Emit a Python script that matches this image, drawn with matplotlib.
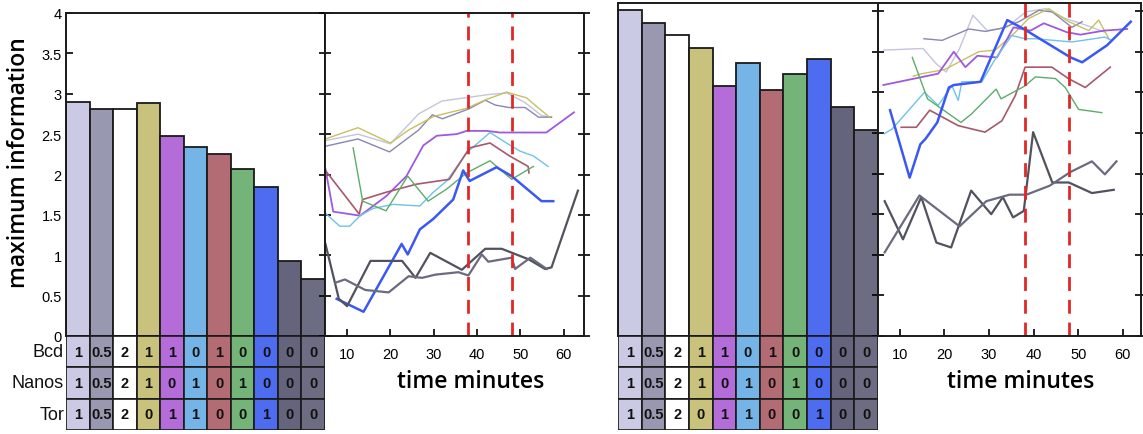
import matplotlib
matplotlib.use("Agg")
import matplotlib.pyplot as plt
from matplotlib.ticker import FormatStrFormatter

# ---------------- data ----------------
conditions = list(range(1, 12))
bar_colors = ["#cacae4", "#9898b0", "#ffffff", "#c8c27c", "#b46cd8", "#74b4e6",
              "#b46c74", "#74b478", "#4e6cf0", "#64647c", "#6c6c82"]
line_colors = ["#c4c4dc", "#8a86b4", "#ffffff", "#c8c060", "#a058e0", "#6cc4e6",
               "#a8586a", "#5cac6c", "#3a58f4", "#52525f", "#6a6a80"]
line_widths = [1.0, 1.0, 1.0, 1.0, 1.3, 1.0, 1.2, 1.0, 1.8, 1.6, 1.6]

left_bar_values = [2.90, 2.81, 2.81, 2.88, 2.48, 2.34, 2.25, 2.07, 1.84, 0.93, 0.70]
right_bar_values = [4.01, 3.85, 3.71, 3.54, 3.08, 3.36, 3.03, 3.22, 3.41, 2.82, 2.54]

row_labels = ["Bcd", "Nanos", "Tor"]
bcd_levels = ["1", "0.5", "2", "1", "1", "0", "1", "0", "0", "0", "0"]
nanos_levels = ["1", "0.5", "2", "1", "0", "1", "0", "1", "0", "0", "0"]
tor_levels = ["1", "0.5", "2", "0", "1", "1", "0", "0", "1", "0", "0"]

# left time courses (time in minutes, information)
left_t = {
    1: [5, 12.5, 20, 26.5, 31.9, 37.3, 42.6, 46.9, 51.1, 54.9, 57.2],
    2: [5, 12.5, 19.8, 26.5, 29.7, 32, 38, 41.9, 44.2, 47.3, 51.1, 54.2, 57.2],
    4: [5, 12.5, 20, 24.2, 30, 37.6, 42.2, 46.8, 51.4, 56.7],
    5: [5, 6.8, 13, 19, 23.7, 27.6, 30.7, 35.3, 37.6, 42.2, 45.3, 56, 62.4],
    6: [5, 8.3, 10.6, 13, 16, 20.7, 26.8, 29.9, 33, 37.6, 43, 46.8, 49.9, 53, 56.4],
    7: [5, 12.8, 13.6, 19, 26, 33.6, 38.3, 43, 47.5, 51.8, 52],
    8: [11.4, 13.6, 19, 24, 28.7, 33, 37.6, 43, 48, 53],
    9: [7.6, 13.8, 22.6, 24, 26.8, 29.9, 34.5, 36.8, 38.3, 44.5, 48, 54.9, 57.6],
    10: [5, 8.1, 10, 15.4, 22.7, 25.8, 29.2, 36.5, 41.9, 45.7, 51.9, 55.7, 57.2, 63.3],
    11: [7.3, 9.5, 14.2, 19.6, 24.2, 27.3, 30.4, 35.7, 38, 41.1, 42.6, 48, 48.8, 52.3, 56.1],
}
left_v = {
    1: [2.42, 2.50, 2.38, 2.75, 2.91, 2.95, 2.99, 3.01, 2.89, 2.73, 2.71],
    2: [2.35, 2.44, 2.28, 2.55, 2.74, 2.69, 2.81, 2.92, 2.86, 2.83, 2.83, 2.71, 2.71],
    4: [2.44, 2.58, 2.39, 2.55, 2.72, 2.82, 2.93, 3.02, 2.95, 2.71],
    5: [2.07, 1.54, 1.49, 1.73, 1.98, 2.36, 2.48, 2.50, 2.54, 2.54, 2.52, 2.52, 2.77],
    6: [1.52, 1.36, 1.36, 1.49, 1.58, 1.63, 1.61, 1.78, 1.92, 2.27, 2.52, 2.39, 2.29, 2.23, 2.10],
    7: [2.05, 1.51, 1.69, 1.78, 1.88, 1.94, 2.33, 2.39, 2.23, 2.10, 2.02],
    8: [2.33, 1.67, 1.55, 1.98, 1.67, 1.82, 2.02, 2.17, 1.94, 2.10],
    9: [0.46, 0.30, 1.14, 1.01, 1.32, 1.45, 1.69, 2.05, 1.92, 2.09, 1.98, 1.67, 1.67],
    10: [1.14, 0.46, 0.37, 0.93, 0.93, 0.72, 1.03, 0.82, 1.08, 1.08, 0.95, 0.83, 0.85, 1.80],
    11: [0.66, 0.70, 0.57, 0.54, 0.74, 0.72, 0.76, 0.79, 0.75, 1.01, 0.92, 0.97, 0.83, 0.97, 0.83],
}

# right time courses
right_t = {
    1: [6.4, 15.2, 18.2, 20.4, 23.4, 26.4, 29.6, 34, 38.2, 42.7, 47.1, 51.6, 56],
    2: [15.4, 19.5, 25.5, 29.2, 32.9, 36.7, 41.2, 44.2, 48.6, 50.9],
    4: [13, 15, 20, 27.7, 31.4, 35.9, 38.9, 43.4, 47.9, 52.4, 54.6, 56.9],
    5: [6.3, 18.6, 22.1, 24.7, 27.4, 31.8, 35.5, 39.3, 42.3, 47.5, 50.5, 55.8, 61],
    6: [6.5, 8.3, 15.5, 18.6, 21.7, 23.1, 23.9, 28.4, 31.4, 35.1, 38.1, 40.4, 48.6, 56, 57.5],
    7: [10.3, 13.7, 16.7, 23.1, 29.1, 32.9, 35.9, 38.1, 44.1, 47.8, 51.6, 57.2],
    8: [12.8, 16.2, 23.7, 26, 31.6, 32.7, 38.1, 40.4, 44.9, 47.1, 50.1, 55.3],
    9: [7.8, 12.2, 14.6, 15.8, 18.4, 21, 22.1, 28.1, 34.1, 37.8, 48.3, 50.9, 56.5, 61.8],
    10: [6.6, 10.7, 14.8, 18.2, 21.5, 26, 30.5, 33.1, 35.4, 37.8, 39.9, 44.2, 47.9, 53.1, 58],
    11: [6.6, 14.4, 23.4, 29.4, 34.6, 38.4, 43.6, 48.3, 53.1, 56, 58.6],
}
right_v = {
    1: [3.52, 3.54, 3.35, 3.25, 3.54, 3.95, 3.76, 3.80, 3.99, 4.03, 3.91, 3.83, 3.74],
    2: [3.66, 3.64, 3.78, 3.75, 3.79, 3.87, 4.01, 3.99, 3.80, 3.87],
    4: [3.20, 3.23, 3.28, 3.50, 3.52, 3.74, 3.91, 4.03, 3.87, 3.76, 3.89, 3.66],
    5: [3.09, 3.23, 3.50, 3.31, 3.45, 3.43, 3.80, 3.76, 3.85, 3.74, 3.71, 3.76, 3.78],
    6: [2.49, 2.55, 3.00, 2.84, 3.08, 2.90, 3.13, 3.13, 3.41, 3.70, 3.66, 3.66, 3.62, 3.68, 3.64],
    7: [2.57, 2.57, 2.78, 2.59, 2.51, 2.65, 2.96, 3.31, 3.31, 3.17, 3.06, 3.31],
    8: [3.43, 2.92, 2.63, 2.73, 3.04, 2.92, 3.08, 3.19, 3.17, 3.06, 2.79, 2.75],
    9: [2.78, 1.95, 2.36, 2.43, 2.63, 3.06, 3.09, 3.13, 3.89, 3.78, 3.43, 3.37, 3.58, 3.87],
    10: [1.66, 1.19, 1.71, 1.15, 1.09, 1.79, 1.50, 1.71, 1.46, 1.54, 2.51, 1.89, 1.89, 1.76, 1.80],
    11: [1.03, 1.73, 1.35, 1.66, 1.74, 1.74, 1.85, 2.02, 2.15, 1.99, 2.15],
}

event_times = [38, 48]
time_ticks = [10, 20, 30, 40, 50, 60]
info_ticks = [0, 0.5, 1, 1.5, 2, 2.5, 3, 3.5, 4]

# ---------------- layout ----------------
W, H = 1143, 435
fig = plt.figure(figsize=(W / 100, H / 100), dpi=100)
plt.rcParams["font.family"] = ["Liberation Sans", "DejaVu Sans"]


def ax_px(x0, y0, x1, y1):
    return fig.add_axes([x0 / W, 1 - y1 / H, (x1 - x0) / W, (y1 - y0) / H])


def style_frame(ax):
    for s in ax.spines.values():
        s.set_linewidth(1.4)
        s.set_color("#1a1a1a")


def bar_panel(ax, values, ymax, labels):
    ax.bar(conditions, values, width=1.0, color=bar_colors,
           edgecolor="#1a1a1a", linewidth=1.3)
    ax.set_xlim(0.5, 11.5)
    ax.set_ylim(0, ymax)
    ax.set_xticks([])
    ax.set_yticks(info_ticks)
    ax.yaxis.set_major_formatter(FormatStrFormatter("%g"))
    ax.tick_params(axis="y", direction="in", length=5, width=1.2,
                   labelsize=10.5, pad=3, labelleft=labels)
    ax.set_axisbelow(True)
    style_frame(ax)


def line_panel(ax, tdict, vdict, xlim, ymax):
    for k in sorted(tdict):
        ax.plot(tdict[k], vdict[k], color=line_colors[k - 1],
                lw=line_widths[k - 1], solid_joinstyle="round")
    for t in event_times:
        ax.axvline(t, color="#e02828", lw=2.0, dashes=(5, 3.2))
    ax.set_xlim(*xlim)
    ax.set_ylim(0, ymax)
    ax.set_xticks(time_ticks)
    ax.set_yticks(info_ticks)
    ax.tick_params(axis="x", direction="in", length=5, width=1.2,
                   labelsize=10.5, pad=8)
    ax.tick_params(axis="y", direction="inout", length=8, width=1.2,
                   left=True, right=True, labelleft=False)
    style_frame(ax)


def table_panel(ax, with_labels):
    rows = [bcd_levels, nanos_levels, tor_levels]
    for r, levels in enumerate(rows):
        ax.bar(conditions, [1] * 11, bottom=r, width=1.0, color=bar_colors,
               edgecolor="#1a1a1a", linewidth=1.2)
        for c, txt in zip(conditions, levels):
            ax.text(c, r + 0.5, txt, ha="center", va="center",
                    fontsize=10.5, fontweight="bold", color="#111111")
        if with_labels:
            ax.text(0.42, r + 0.5, row_labels[r], ha="right", va="center",
                    fontsize=13, color="#111111")
    ax.set_xlim(0.5, 11.5)
    ax.set_ylim(3, 0)
    ax.axis("off")


# left panel
axL = ax_px(66, 14, 325, 337)
bar_panel(axL, left_bar_values, 4.0, True)
axLl = ax_px(325, 14, 584, 337)
line_panel(axLl, left_t, left_v, (4.9, 64.7), 4.0)
axLt = ax_px(66, 337, 325, 431)
table_panel(axLt, True)

# right panel
axR = ax_px(618, 4, 878, 337)
bar_panel(axR, right_bar_values, 4.1, False)
axRl = ax_px(878, 4, 1141, 337)
line_panel(axRl, right_t, right_v, (5.1, 64.1), 4.1)
axRt = ax_px(618, 337, 878, 431)
table_panel(axRt, False)

fig.text(19 / W, 1 - 163 / H, "maximum information", rotation=90,
         ha="center", va="center", fontsize=16.5, family="Open Sans",
         fontweight="semibold")
fig.text(471 / W, 1 - 382 / H, "time minutes", ha="center", va="center",
         fontsize=16.5, family="Open Sans", fontweight="semibold")
fig.text(1021 / W, 1 - 382 / H, "time minutes", ha="center", va="center",
         fontsize=16.5, family="Open Sans", fontweight="semibold")

fig.savefig("out.png", dpi=100)
